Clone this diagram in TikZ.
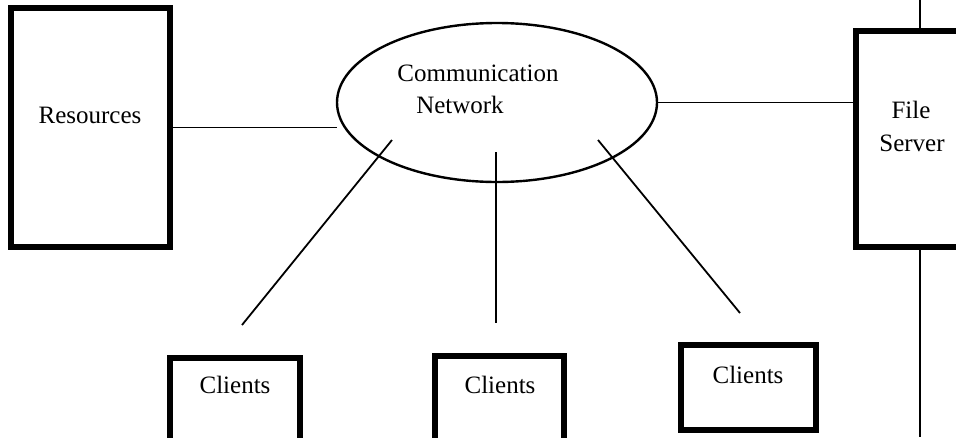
\documentclass[tikz,border=0pt]{standalone}
\usepackage{fontspec}
\setmainfont{Liberation Serif}
\usetikzlibrary{shapes.geometric}
\begin{document}
\begin{tikzpicture}[x=1pt,y=-1pt,
  box/.style={draw, line width=5.5pt, inner sep=0pt, outer sep=0pt},
  cloud/.style={draw, ellipse, line width=2.4pt, inner sep=0pt, outer sep=0pt},
  link/.style={line width=1.8pt},
  lbl/.style={font=\fontsize{25}{30}\selectfont, inner sep=0pt}]
\useasboundingbox (0,0) rectangle (956,437);
\clip (0,0) rectangle (956,437);

% boxes
\node[box, minimum width=159pt, minimum height=239pt] (res) at (90.5,127.5) {};
\node[box, minimum width=128pt, minimum height=216pt] (fs) at (920,139) {};
\node[box, minimum width=130pt, minimum height=140pt] (cl1) at (235,428) {};
\node[box, minimum width=129pt, minimum height=140pt] (cl2) at (499.5,426) {};
\node[box, minimum width=135pt, minimum height=85pt] (cl3) at (748.5,387.5) {};

% network ellipse
\node[cloud, minimum width=320pt, minimum height=159pt] (net) at (497,102.5) {};

% labels
\node[lbl] (resT) at (90,115) {Resources};
\node[lbl] (netT1) at (478,73) {Communication};
\node[lbl] (netT2) at (460,105) {Network};
\node[lbl] (fsT1) at (911,110) {File};
\node[lbl] (fsT2) at (912,143) {Server};
\node[lbl] (cl1T) at (235,385) {Clients};
\node[lbl] (cl2T) at (500,385) {Clients};
\node[lbl] (cl3T) at (748,375) {Clients};

% free ends of the links
\coordinate (topEdge) at (920,0);
\coordinate (botEdge) at (920,437);
\coordinate (a1) at (392,140);
\coordinate (b1) at (242,325);
\coordinate (a2) at (496,152);
\coordinate (b2) at (496,323);
\coordinate (a3) at (598,140);
\coordinate (b3) at (740,313);

% links
\draw[link] (res.east) -- (res.east -| net.west);
\draw[link] (net.east) -- (net.east -| fs.west);
\draw[link] (fs.north) -- (topEdge);
\draw[link] (fs.south) -- (botEdge);
\draw[link] (a1) -- (b1);
\draw[link] (a2) -- (b2);
\draw[link] (a3) -- (b3);
\end{tikzpicture}
\end{document}
